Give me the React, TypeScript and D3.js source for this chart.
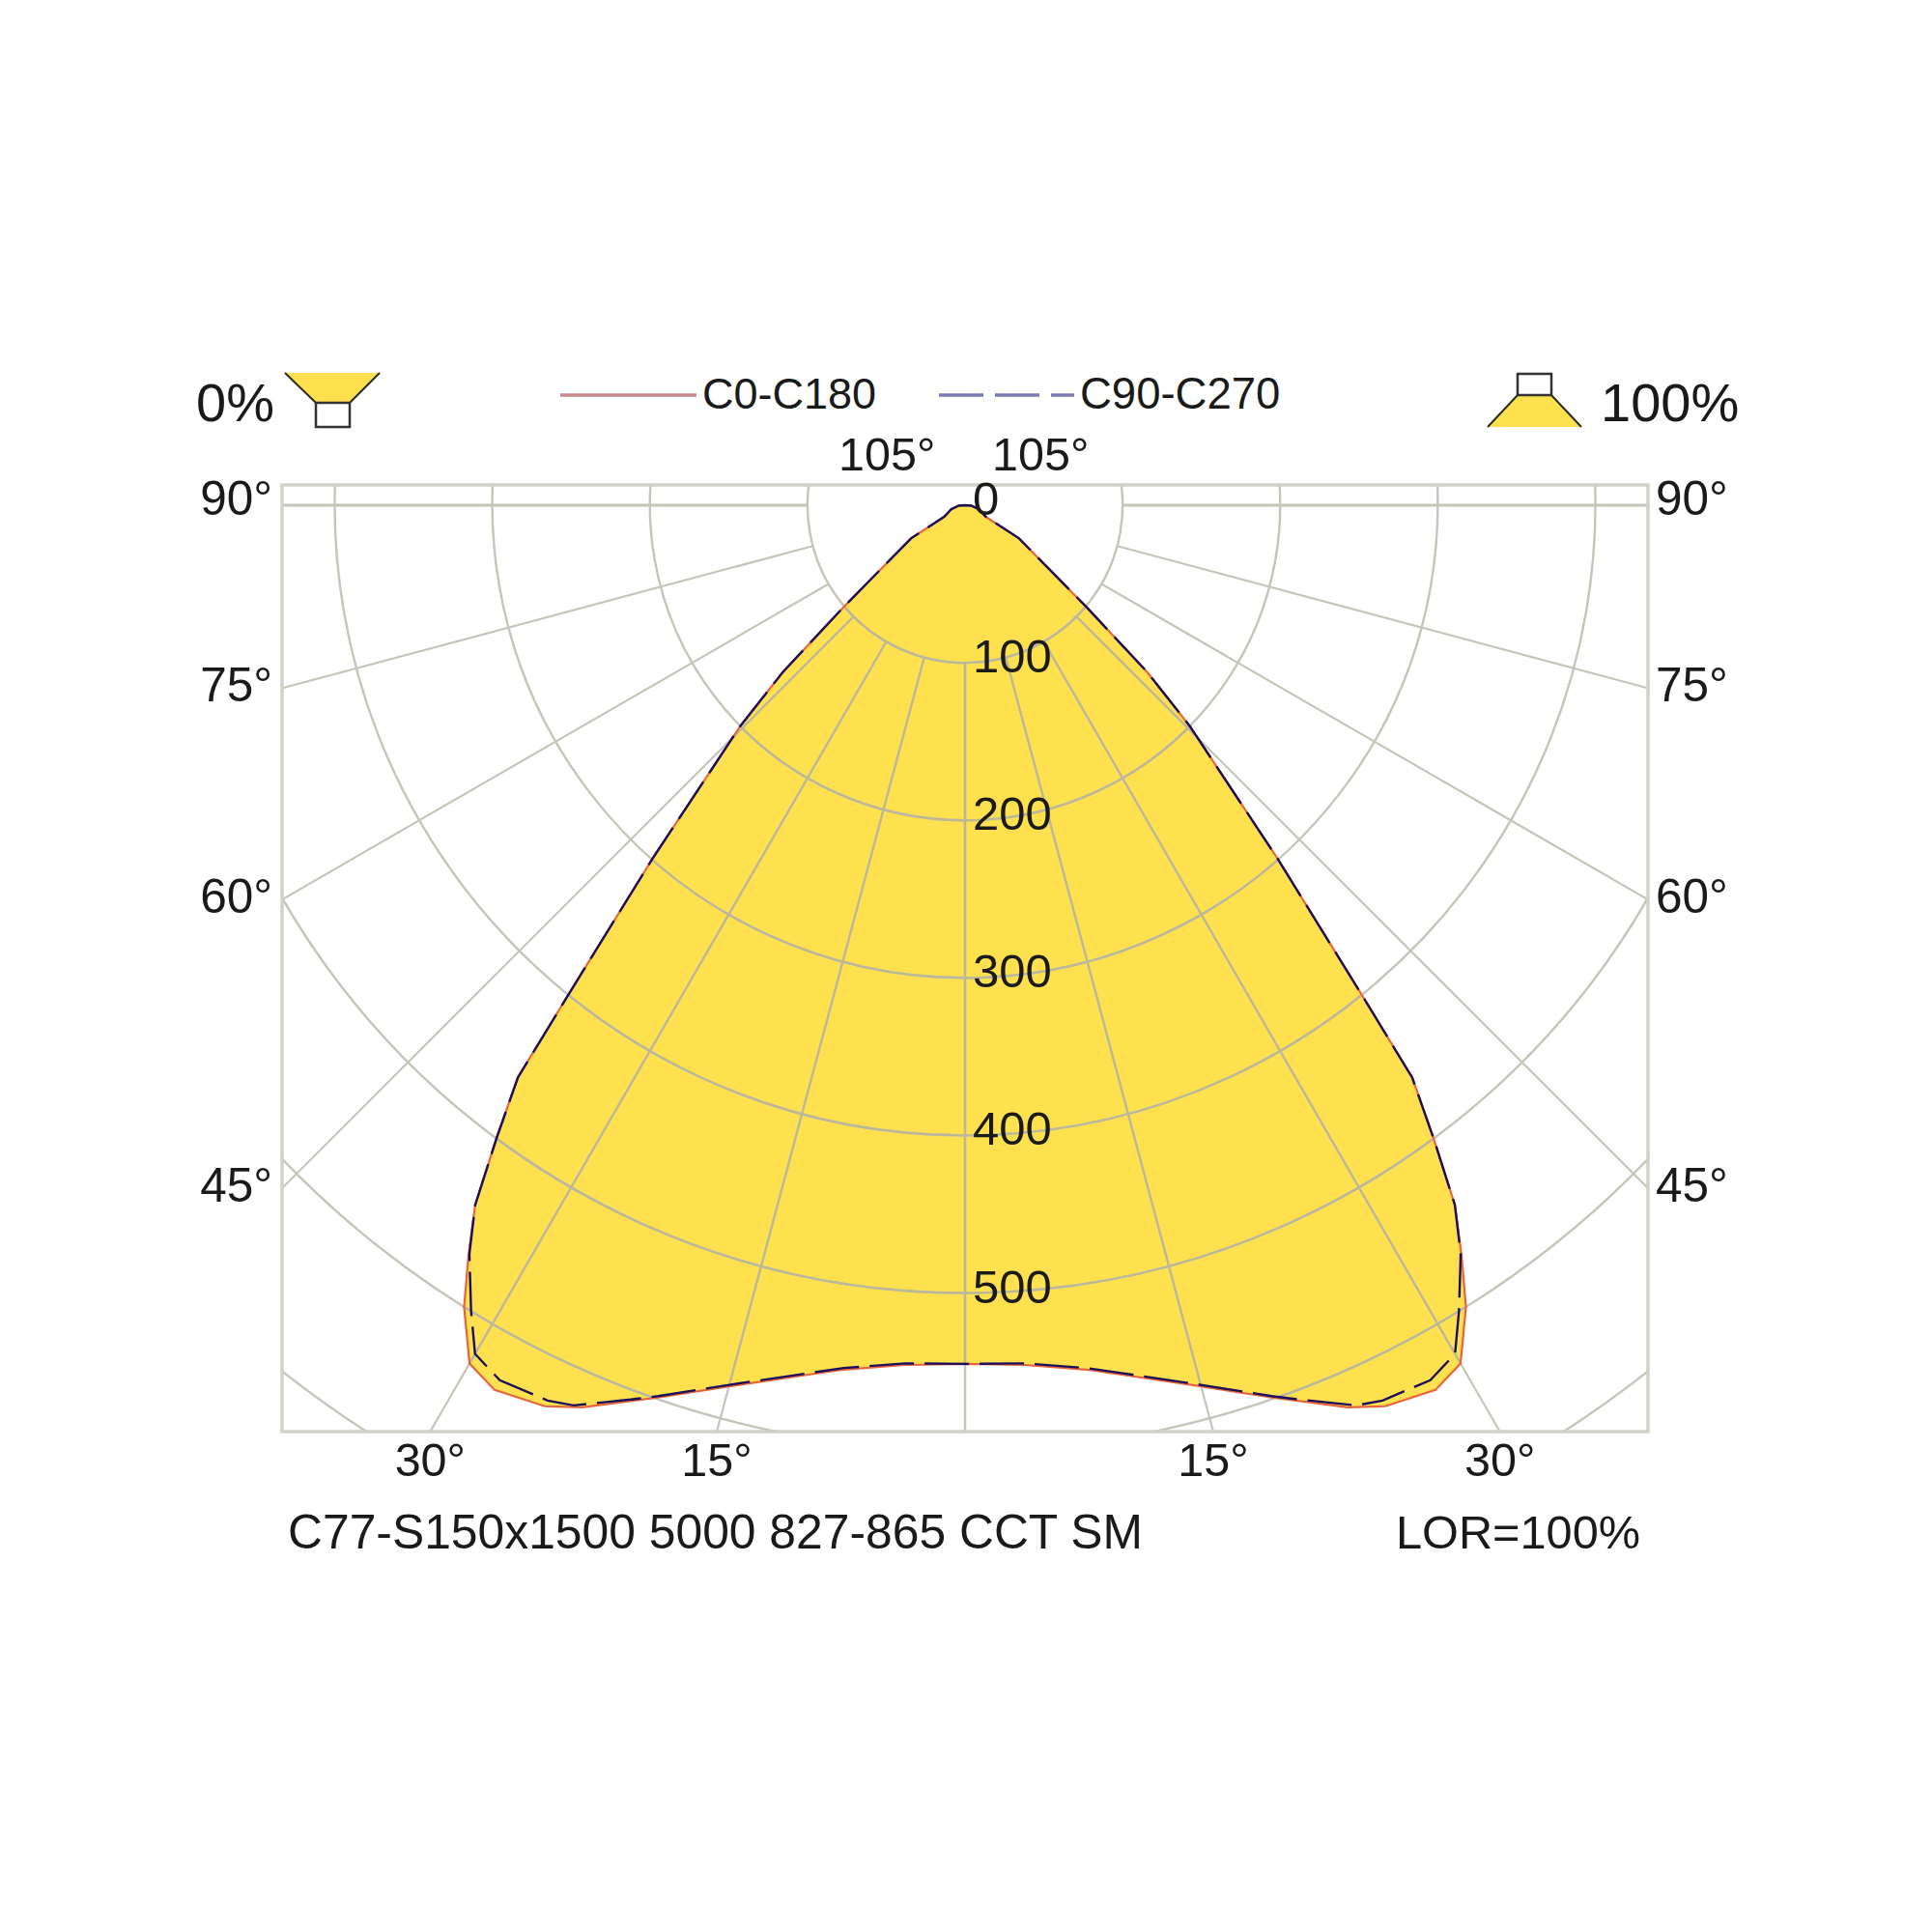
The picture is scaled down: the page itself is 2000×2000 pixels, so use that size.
import React from "react";
import * as d3 from "d3";

// candela values, gamma in degrees from straight down
const gammaC0 = [0, 4, 8, 10, 15, 19, 20.5, 23, 25, 28, 30, 32, 33.5, 35, 36.5, 38, 39, 41.5, 45.5, 47.5, 50, 58.5, 61, 74, 86, 90];
const cdC0 = [545, 547, 554, 560, 579, 599, 607, 622, 631, 636, 629, 600, 571, 542, 500, 461, 401, 299, 200, 157, 101, 40, 15, 9, 4, 0];
const gammaC90 = [0, 4, 8, 10, 15, 19, 20.5, 23.5, 25, 28, 30, 31.5, 33.5, 35, 36.5, 38, 39, 41.5, 45.5, 47.5, 50, 58.5, 61, 74, 86, 90];
const cdC90 = [545, 546, 553, 559, 578, 598, 606, 623, 627, 629, 622, 600, 570, 542, 500, 461, 401, 299, 200, 157, 101, 40, 15, 9, 4, 0];

const rings = [100, 200, 300, 400, 500, 600, 700];
const radials = [0, 15, 30, 45, 60, 75, 90];
const ringLabels = [0, 100, 200, 300, 400, 500];
const sideLabels = [90, 75, 60, 45];
const bottomLabels = [15, 30];
const legendNames = ["C0-C180", "C90-C270"];
const footerName = "C77-S150x1500 5000 827-865 CCT SM";
const footerLor = "LOR=100%";

const frame = { left: 292, right: 1706, top: 502, bottom: 1482 };
const cx = 999;
const cy = 523;
const FONT = "'Liberation Sans', Arial, sans-serif";
const GRID = "#c6c5ba";
const GRID_ON_FILL = "#bcb896";
const YELLOW = "#ffe14f";
const TEXT = "#1a1a1a";

const rScale = d3.scaleLinear().domain([0, 100]).range([0, 163.1]);
const rad = (deg: number) => (deg * Math.PI) / 180;

// one polar curve, left half then right half, both with the same readings
function curvePoints(gamma: number[], cd: number[]): [number, number][] {
  const right = gamma.map((g, i) => [Math.PI - rad(g), rScale(cd[i])] as [number, number]);
  const left = gamma.map((g, i) => [Math.PI + rad(g), rScale(cd[i])] as [number, number]);
  return [...left.reverse(), ...right.slice(1)];
}

export default function App() {
  const radial = d3.lineRadial<[number, number]>().curve(d3.curveLinear);
  const ringArc = d3.arc<number>()
    .innerRadius((d) => rScale(d))
    .outerRadius((d) => rScale(d))
    .startAngle(rad(75))
    .endAngle(rad(285));

  const c0Path = radial(curvePoints(gammaC0, cdC0)) as string;
  const c90Path = radial(curvePoints(gammaC90, cdC90)) as string;
  const halfW = (frame.right - frame.left) / 2;
  const downH = frame.bottom - cy;

  const txt = { fontFamily: FONT, fill: TEXT };

  const gridLines = (
    <g transform={`translate(${cx},${cy})`}>
      {rings.map((r) => (
        <path key={r} d={ringArc(r) as string} />
      ))}
      {radials.flatMap((g) =>
        [1, -1].map((side) => (
          <path
            key={`${g}-${side}`}
            strokeWidth={g === 90 ? 3 : 2.2}
            d={
              radial([
                [Math.PI - side * rad(g), rScale(100)],
                [Math.PI - side * rad(g), rScale(900)],
              ]) as string
            }
          />
        ))
      )}
    </g>
  );

  return (
    <svg
      width={2000}
      height={2000}
      style={{ position: "absolute", left: 0, top: 0, background: "#fff" }}
    >
      <defs>
        <clipPath id="frame-clip">
          <rect x={frame.left} y={frame.top} width={frame.right - frame.left} height={frame.bottom - frame.top} />
        </clipPath>
        <clipPath id="curve-clip">
          <path d={c0Path} transform={`translate(${cx},${cy})`} />
        </clipPath>
      </defs>

      <g transform={`translate(${cx},${cy})`}>
        <path d={c0Path} fill={YELLOW} />
      </g>

      <g clipPath="url(#frame-clip)" fill="none" stroke={GRID} strokeWidth={2.4}>
        {gridLines}
      </g>
      <g clipPath="url(#curve-clip)" fill="none" stroke={GRID_ON_FILL} strokeWidth={2.4}>
        {gridLines}
      </g>
      <rect
        x={frame.left}
        y={frame.top}
        width={frame.right - frame.left}
        height={frame.bottom - frame.top}
        fill="none"
        stroke="#d2d1c8"
        strokeWidth={3.5}
      />

      <g transform={`translate(${cx},${cy})`} fill="none" strokeWidth={2}>
        <path d={c0Path} stroke="#e8643c" strokeWidth={2.2} />
        <path d={c90Path} stroke="#1b0f5c" strokeWidth={2.4} strokeDasharray="46 11" />
      </g>

      {/* legend */}
      <line x1={580} x2={721} y1={409} y2={409} stroke="#c9878b" strokeWidth={3.5} />
      <line x1={972} x2={1112} y1={409} y2={409} stroke="#7b7bb3" strokeWidth={3.5} strokeDasharray="46 12" />
      <text x={727} y={423} fontSize={45} {...txt}>{legendNames[0]}</text>
      <text x={1118} y={423} fontSize={45.5} {...txt}>{legendNames[1]}</text>

      {/* lamp icons */}
      <path d="M295,386 L393,386 L362,417 L327,417 Z" fill={YELLOW} />
      <path d="M295,386 L327,417 L362,417 L393,386" fill="none" stroke="#2a2a1a" strokeWidth={2} />
      <rect x={327} y={417} width={35} height={25} fill="#fff" stroke="#333" strokeWidth={2.5} />
      <text x={203} y={436} fontSize={56} {...txt}>0%</text>

      <path d="M1571,409 L1606,409 L1637,442 L1540,442 Z" fill={YELLOW} />
      <path d="M1540,442 L1571,409 L1606,409 L1637,442" fill="none" stroke="#2a2a1a" strokeWidth={2} />
      <rect x={1571} y={387} width={35} height={22} fill="#fff" stroke="#333" strokeWidth={2.5} />
      <text x={1657} y={436} fontSize={56} {...txt}>100%</text>

      {/* angle labels */}
      <text x={868} y={487} fontSize={48.5} {...txt}>105°</text>
      <text x={1027} y={487} fontSize={48.5} {...txt}>105°</text>
      {sideLabels.map((g) => {
        const y = cy + halfW * Math.tan(rad(90 - g)) + (g === 90 ? 10 : 14);
        return (
          <g key={g}>
            <text x={frame.left - 10} y={y} fontSize={49.5} textAnchor="end" {...txt}>{g}°</text>
            <text x={frame.right + 8} y={y} fontSize={49.5} {...txt}>{g}°</text>
          </g>
        );
      })}
      {bottomLabels.map((g) => {
        const dx = downH * Math.tan(rad(g));
        return (
          <g key={g}>
            <text x={cx - dx} y={1528} fontSize={48.5} textAnchor="middle" {...txt}>{g}°</text>
            <text x={cx + dx} y={1528} fontSize={48.5} textAnchor="middle" {...txt}>{g}°</text>
          </g>
        );
      })}

      {/* candela labels */}
      {ringLabels.map((v) => (
        <text key={v} x={cx + 8} y={cy + rScale(v) + 10} fontSize={49} {...txt}>{v}</text>
      ))}

      {/* footer */}
      <text x={298} y={1603} fontSize={49.8} {...txt}>{footerName}</text>
      <text x={1445} y={1603} fontSize={48.7} {...txt}>{footerLor}</text>
    </svg>
  );
}
